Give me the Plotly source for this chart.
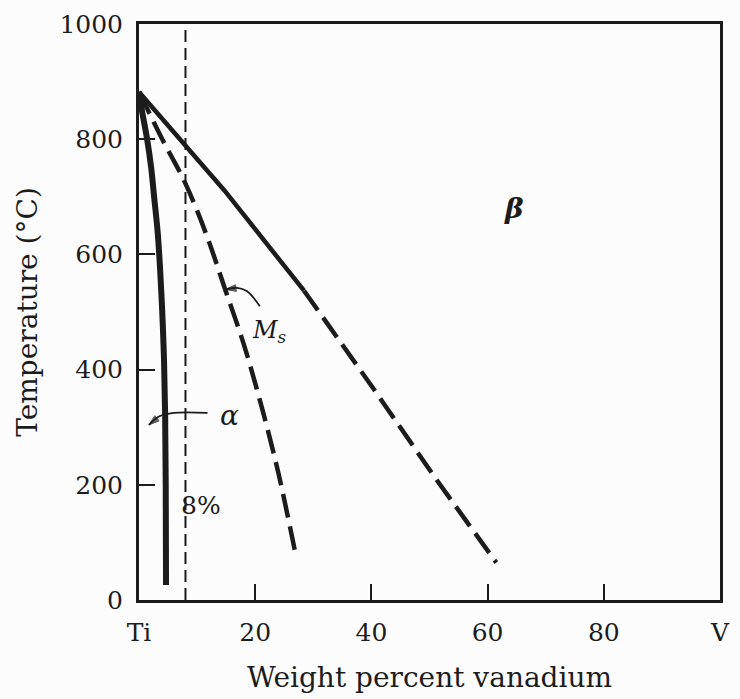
import plotly.graph_objects as go

# --- data ---
alpha_x = [0, 0.5, 1.4, 2.1, 2.6, 3.2, 3.6, 4.0, 4.3, 4.5, 4.6, 4.65]
alpha_t = [882, 850, 800, 750, 700, 640, 580, 500, 420, 320, 200, 26]

beta_solid_x = [0, 8.1, 14.7, 28.4]
beta_solid_t = [882, 789, 711, 537]
beta_dash_x = [28.4, 40, 51.4, 61.5]
beta_dash_t = [537, 372, 206, 65]

ms_x = [0, 4, 7.9, 11.5, 14.8, 18, 20.8, 24, 27.1]
ms_t = [882, 800, 725, 637, 540, 445, 347, 220, 72]

comp_x = [8, 8]
comp_t = [0, 1000]

# label leader curves (tail -> head)
ms_leader_x = [20.8, 18.6, 16.9, 14.9]
ms_leader_t = [510, 536, 542, 539]
alpha_leader_x = [11.8, 6.0, 3.5, 1.7]
alpha_leader_t = [325, 325, 319, 304]

x_tickvals = [0, 20, 40, 60, 80, 100]
x_ticktext = ["Ti", "20", "40", "60", "80", "V"]
y_tickvals = [0, 200, 400, 600, 800, 1000]

INK = "#1c1c1c"
FONT = "DejaVu Serif"

fig = go.Figure()
fig.add_trace(go.Scatter(x=comp_x, y=comp_t, mode="lines",
                         line=dict(color=INK, width=2, dash="12px,6px"),
                         showlegend=False, hoverinfo="skip"))
fig.add_trace(go.Scatter(x=ms_x, y=ms_t, mode="lines", line_shape="spline",
                         line=dict(color=INK, width=4.5, dash="24px,9px"),
                         showlegend=False))
fig.add_trace(go.Scatter(x=beta_dash_x, y=beta_dash_t, mode="lines",
                         line=dict(color=INK, width=4.5, dash="24px,9px"),
                         showlegend=False))
fig.add_trace(go.Scatter(x=beta_solid_x, y=beta_solid_t, mode="lines",
                         line=dict(color=INK, width=4.5),
                         showlegend=False))
fig.add_trace(go.Scatter(x=alpha_x, y=alpha_t, mode="lines", line_shape="spline",
                         line=dict(color=INK, width=6),
                         showlegend=False))

for lx, lt in ((ms_leader_x, ms_leader_t), (alpha_leader_x, alpha_leader_t)):
    fig.add_trace(go.Scatter(x=lx, y=lt, mode="lines", line_shape="spline",
                             line=dict(color=INK, width=1.8),
                             showlegend=False, hoverinfo="skip"))
    # arrow head at the last point, oriented along the final segment
    fig.add_trace(go.Scatter(x=lx[-2:], y=lt[-2:], mode="markers",
                             marker=dict(symbol="arrow", size=[0, 11],
                                         angleref="previous", color=INK,
                                         line=dict(color=INK, width=1)),
                             showlegend=False, hoverinfo="skip"))

ann_font = dict(family=FONT, size=25, color=INK)
fig.add_annotation(x=64.5, y=679, text="<b><i>β</i></b>", showarrow=False,
                   font=dict(family=FONT, size=28, color=INK))
fig.add_annotation(x=22.5, y=467, text="<i>M</i><sub><i>s</i></sub>", showarrow=False,
                   font=dict(family=FONT, size=24, color=INK))
fig.add_annotation(x=15.5, y=321, text="<i>α</i>", showarrow=False,
                   font=dict(family=FONT, size=28, color=INK))
fig.add_annotation(x=10.6, y=164, text="8%", showarrow=False, font=ann_font)

axis_common = dict(showline=True, linewidth=3, linecolor=INK, mirror=True,
                   ticks="inside", ticklen=16, tickwidth=2, tickcolor=INK,
                   showgrid=False, zeroline=False,
                   tickfont=dict(family=FONT, size=25, color=INK))

fig.update_layout(
    width=740, height=699,
    margin=dict(l=139, r=10, t=20, b=97),
    paper_bgcolor="#fcfcfc", plot_bgcolor="#fcfcfc",
    xaxis=dict(range=[0, 100], tickvals=x_tickvals, ticktext=x_ticktext,
               ticklabelstandoff=8,
               title=dict(text="Weight percent vanadium", standoff=22,
                          font=dict(family=FONT, size=28, color=INK)),
               **axis_common),
    yaxis=dict(range=[0, 1000], tickvals=y_tickvals, ticklabelstandoff=8,
               title=dict(text="Temperature (°C)", standoff=14,
                          font=dict(family=FONT, size=28, color=INK)),
               **axis_common),
)

fig.write_html("out.html")
